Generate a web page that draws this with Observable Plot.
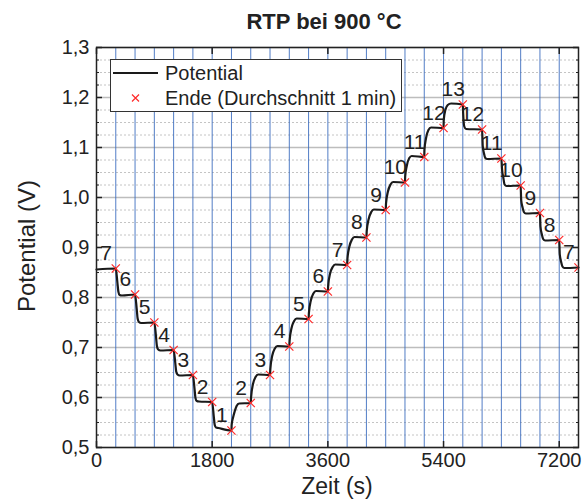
<!DOCTYPE html>
<html>
<head>
<meta charset="utf-8">
<script src="https://cdn.jsdelivr.net/npm/d3@7"></script>
<script src="https://cdn.jsdelivr.net/npm/@observablehq/plot@0.6"></script>
<style>
  body { margin: 0; background: #fff; font-family: "Liberation Sans", Arial, sans-serif; color: #222; }
  #chart { position: relative; width: 588px; height: 500px; }
  #chart > svg { position: absolute; left: 0; top: 0; }
  .title { position: absolute; left: 204px; width: 240px; top: 9px; text-align: center; font-weight: bold; font-size: 22px; white-space: nowrap; }
  .xlabel { position: absolute; left: 237px; width: 200px; top: 474px; line-height: 24px; text-align: center; font-size: 23px; }
  .ylabel { position: absolute; left: 27px; top: 246px; transform: translate(-50%, -50%) rotate(-90deg); font-size: 24px; white-space: nowrap; }
  .legend { position: absolute; left: 110px; top: 59px; width: 292px; height: 53px; box-sizing: border-box; border: 1px solid #333; background: #fff; font-size: 20px; }
  .legend .row { position: absolute; height: 24px; display: flex; align-items: center; white-space: nowrap; }
  .legend .row svg { position: static; display: block; }
</style>
</head>
<body>
<div id="chart">
  <div class="title">RTP bei 900 °C</div>
  <div class="xlabel">Zeit (s)</div>
  <div class="ylabel">Potential (V)</div>
</div>
<script>
// Stufennummer jeder Haltephase (je 300 s)
const stufe = [7, 6, 5, 4, 3, 2, 1, 2, 3, 4, 5, 6, 7, 8, 9, 10, 11, 12, 13, 12, 11, 10, 9, 8, 7];

// Ende jeder Stufe (s) und Mittelwert der letzten Minute (V)
const endeZeit = [300, 600, 900, 1200, 1500, 1800, 2100, 2400, 2700, 3000, 3300, 3600, 3900,
  4200, 4500, 4800, 5100, 5400, 5700, 6000, 6300, 6600, 6900, 7200, 7500];
const endePotential = [0.858, 0.806, 0.750, 0.695, 0.645, 0.591, 0.534, 0.589, 0.645, 0.702,
  0.757, 0.812, 0.865, 0.920, 0.975, 1.030, 1.081, 1.139, 1.186, 1.136, 1.078, 1.024, 0.969, 0.915, 0.860];

// Gemessener Potentialverlauf [Zeit (s), Potential (V)]
const verlauf = [
  [0, 0.856], [300, 0.858],
  [325, 0.830], [340, 0.812], [360, 0.805], [395, 0.804], [600, 0.806],
  [625, 0.778], [640, 0.758], [660, 0.751], [695, 0.749], [900, 0.750],
  [925, 0.723], [940, 0.703], [960, 0.696], [995, 0.694], [1200, 0.695],
  [1225, 0.670], [1240, 0.652], [1260, 0.646], [1295, 0.644], [1500, 0.645],
  [1525, 0.618], [1540, 0.599], [1560, 0.593], [1595, 0.592], [1800, 0.591],
  [1825, 0.562], [1840, 0.545], [1860, 0.540], [1895, 0.539], [2100, 0.534],
  [2103, 0.545], [2125, 0.560], [2150, 0.572], [2180, 0.583], [2220, 0.588], [2400, 0.589],
  [2405, 0.600], [2435, 0.627], [2475, 0.641], [2515, 0.646], [2700, 0.645],
  [2705, 0.657], [2735, 0.684], [2775, 0.698], [2815, 0.703], [3000, 0.702],
  [3005, 0.714], [3035, 0.739], [3075, 0.753], [3115, 0.758], [3300, 0.757],
  [3305, 0.769], [3335, 0.794], [3375, 0.808], [3415, 0.813], [3600, 0.812],
  [3605, 0.824], [3635, 0.848], [3675, 0.861], [3715, 0.866], [3900, 0.865],
  [3905, 0.878], [3935, 0.902], [3975, 0.916], [4015, 0.921], [4200, 0.920],
  [4205, 0.933], [4235, 0.957], [4275, 0.971], [4315, 0.976], [4500, 0.975],
  [4505, 0.988], [4535, 1.012], [4575, 1.026], [4615, 1.031], [4800, 1.030],
  [4803, 1.042], [4826, 1.062], [4867, 1.079], [4905, 1.083], [5100, 1.081],
  [5103, 1.095], [5128, 1.119], [5165, 1.135], [5205, 1.140], [5400, 1.139],
  [5403, 1.155], [5428, 1.175], [5465, 1.185], [5517, 1.188], [5700, 1.186],
  [5705, 1.169], [5723, 1.142], [5750, 1.137], [6000, 1.136],
  [6010, 1.103], [6030, 1.088], [6050, 1.079], [6080, 1.077], [6300, 1.078],
  [6310, 1.057], [6330, 1.040], [6350, 1.026], [6380, 1.023], [6600, 1.024],
  [6608, 0.995], [6630, 0.980], [6650, 0.971], [6680, 0.968], [6900, 0.969],
  [6908, 0.942], [6930, 0.926], [6950, 0.917], [6980, 0.914], [7200, 0.915],
  [7208, 0.887], [7230, 0.871], [7250, 0.862], [7280, 0.859], [7500, 0.860]
];

// Achsenteilung
const xTicks = [0, 1800, 3600, 5400, 7200];
const yTicks = [0.5, 0.6, 0.7, 0.8, 0.9, 1.0, 1.1, 1.2, 1.3];
const yMinor = d3.range(0, 33).map(i => 0.5 + i * 0.025);

const ende = endeZeit.map((t, i) => ({
  t, v: endePotential[i], stufe: stufe[i], mitte: t - 150
}));

const fmtY = d => d.toFixed(1).replace(".", ",");

const chart = Plot.plot({
  width: 588,
  height: 500,
  marginLeft: 96,
  marginRight: 10,
  marginTop: 47,
  marginBottom: 53,
  style: { fontFamily: "Liberation Sans, Arial, sans-serif", fontSize: "20px", color: "#222", background: "transparent" },
  x: { domain: [0, 7500] },
  y: { domain: [0.5, 1.3] },
  marks: [
    Plot.ruleY(yMinor.filter(v => !yTicks.some(t => Math.abs(t - v) < 1e-9)),
      { stroke: "#c4c4c4", strokeWidth: 1, strokeDasharray: "2,2" }),
    Plot.ruleY(yTicks, { stroke: "#bdbdbd", strokeWidth: 1.6 }),
    Plot.ruleX(endeZeit, { stroke: "#3f6fc0", strokeWidth: 1, strokeOpacity: 0.9 }),
    Plot.line(verlauf, { x: d => d[0], y: d => d[1], stroke: "#1a1a1a", strokeWidth: 2.2, curve: "monotone-x" }),
    Plot.dot(ende, { x: "t", y: "v", symbol: "times", r: 3.8, stroke: "#ff2a2a", strokeWidth: 1.2, clip: true }),
    Plot.text(ende, { x: "mitte", y: "v", text: "stufe", dy: -15, fontSize: 21, fill: "#222" }),
    Plot.frame({ stroke: "#222", strokeWidth: 1.5 }),
    Plot.axisX({ ticks: xTicks, tickSize: 0, tickPadding: 5, tickFormat: d => String(d), label: null, fontSize: 20 }),
    Plot.axisX({ anchor: "bottom", ticks: xTicks, tickSize: -6, text: null, label: null, strokeWidth: 1.5 }),
    Plot.axisX({ anchor: "top", ticks: xTicks, tickSize: -6, text: null, label: null, strokeWidth: 1.5 }),
    Plot.axisY({ ticks: yTicks, tickSize: 0, tickPadding: 7, tickFormat: fmtY, label: null, fontSize: 20 }),
    Plot.axisY({ anchor: "left", ticks: yTicks, tickSize: -6, text: null, label: null, strokeWidth: 1.5 }),
    Plot.axisY({ anchor: "right", ticks: yTicks, tickSize: -6, text: null, label: null, strokeWidth: 1.5 }),
    Plot.axisY({ anchor: "left", ticks: yMinor, tickSize: -3, text: null, label: null }),
    Plot.axisY({ anchor: "right", ticks: yMinor, tickSize: -3, text: null, label: null })
  ]
});

const root = document.getElementById("chart");
root.insertBefore(chart, root.firstChild);

// Legende
const legend = document.createElement("div");
legend.className = "legend";
legend.innerHTML = `
  <div class="row" style="top:1px;left:2px">
    <svg width="46" height="10"><line x1="0" y1="5" x2="45" y2="5" stroke="#1a1a1a" stroke-width="2"/></svg>
    <span style="margin-left:6px">Potential</span>
  </div>
  <div class="row" style="top:26px;left:2px">
    <svg width="46" height="12"><path d="M19,2.5 L26,9.5 M26,2.5 L19,9.5" stroke="#ff2a2a" stroke-width="1.2"/></svg>
    <span style="margin-left:6px">Ende (Durchschnitt 1 min)</span>
  </div>`;
root.appendChild(legend);
</script>
</body>
</html>
